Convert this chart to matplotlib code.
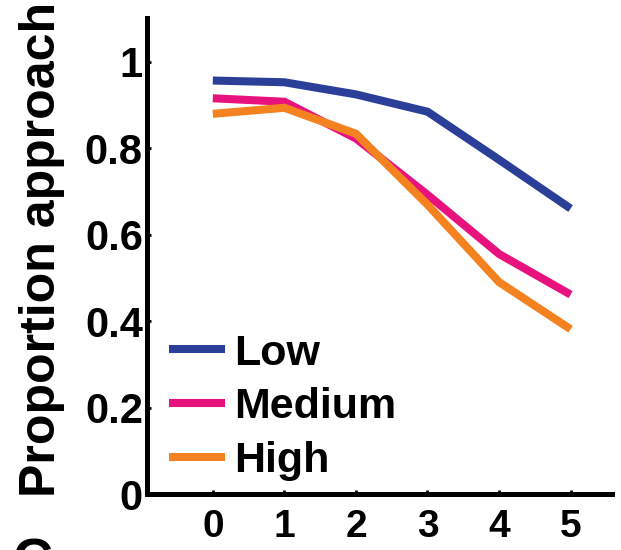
import matplotlib

matplotlib.use("Agg")
import matplotlib.pyplot as plt

# distance values on the x axis
distances = [0, 1, 2, 3, 4, 5]
x_tick_labels = ["0", "1", "2", "3", "4", "5"]

# proportion approach
low_vals = [0.956, 0.952, 0.924, 0.884, 0.773, 0.660]
medium_vals = [0.915, 0.907, 0.822, 0.692, 0.555, 0.461]
high_vals = [0.879, 0.893, 0.833, 0.669, 0.490, 0.381]

y_ticks = [0, 0.2, 0.4, 0.6, 0.8, 1.0]
y_tick_labels = ["0", "0.2", "0.4", "0.6", "0.8", "1"]

series_names = ["Low", "Medium", "High"]
series_colors = {"Low": "#2b3f99", "Medium": "#e8127f", "High": "#f58220"}

plt.rcParams["font.family"] = ["Liberation Sans", "DejaVu Sans"]
plt.rcParams["font.weight"] = "bold"

fig = plt.figure(figsize=(6.21, 5.5), dpi=100)
ax = fig.add_axes([0.2367, 0.1018, 0.749, 0.865])

for name, vals in zip(series_names, [low_vals, medium_vals, high_vals]):
    ax.plot(distances, vals, color=series_colors[name], linewidth=5.8,
            solid_joinstyle="miter", solid_capstyle="butt", label=name)

ax.set_xlim(-0.92, 5.58)
ax.set_ylim(0, 1.1)
ax.set_xticks(distances)
ax.set_xticklabels(x_tick_labels)
ax.set_yticks(y_ticks)
ax.set_yticklabels(y_tick_labels)

for side in ["top", "right"]:
    ax.spines[side].set_visible(False)
for side in ["left", "bottom"]:
    ax.spines[side].set_linewidth(3.6)

ax.tick_params(axis="both", direction="in", length=3, width=2, labelsize=30)
ax.tick_params(axis="x", pad=11, labelsize=28)
ax.tick_params(axis="y", pad=3)

fig.text(42 / 621, 0.096, "Proportion approach", rotation=90, ha="center",
         va="bottom", fontsize=36, fontweight="bold")

# cropped panel letter at the bottom-left corner (cut off in the original)
fig.text(33 / 621, 12 / 550, "C", ha="center", va="top", fontsize=40,
         fontweight="bold")

ax.legend(loc="lower left", bbox_to_anchor=(0.02, 0.0), frameon=False,
          fontsize=31, handlelength=1.3, handletextpad=0.2,
          labelspacing=0.32, borderaxespad=0.1, borderpad=0.2)

plt.savefig("out.png", dpi=100)
